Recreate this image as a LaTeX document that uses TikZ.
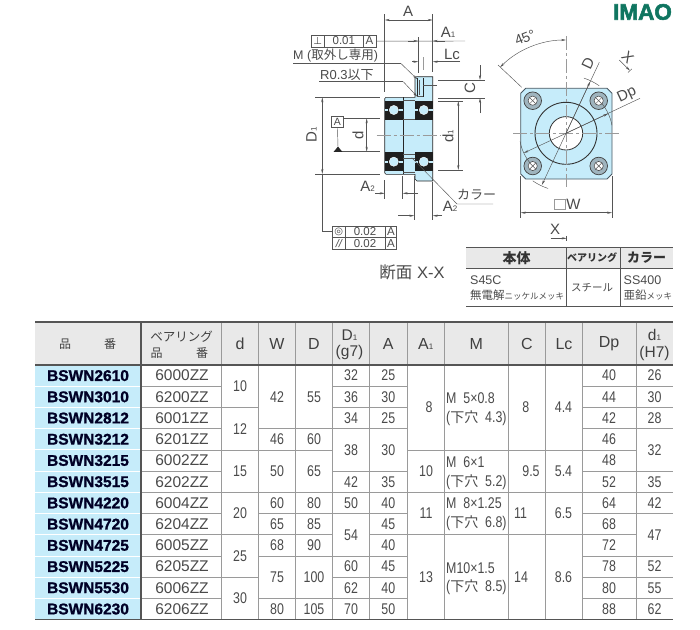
\documentclass[tikz,border=0pt]{standalone}
\usepackage{fontspec}
\setmainfont{Liberation Sans}
\newfontfamily\cjk{Noto Sans CJK JP}
\newfontfamily\narrowfont[FakeStretch=0.8]{Liberation Sans}
\newfontfamily\heavyfont[BoldFeatures={FakeBold=1.2}]{Liberation Sans}
\newfontfamily\logofont[BoldFeatures={FakeBold=2.5}]{Liberation Sans}
\newfontfamily\dejavu{DejaVu Sans}
\usetikzlibrary{arrows.meta,calc}
\definecolor{body_blue}{HTML}{C6ECFA}
\definecolor{text_gray}{HTML}{4A4A4A}
\definecolor{line_gray}{HTML}{555555}
\definecolor{rule_gray}{HTML}{9A9A9A}
\definecolor{head_gray}{HTML}{E9E9E9}
\definecolor{logo_green}{HTML}{0F7560}
\definecolor{ring_gray}{HTML}{9FB4BE}
\newcommand{\fsz}[1]{\fontsize{#1}{#1}\selectfont}
\newcommand{\jp}[1]{{\cjk #1}}
\newcommand{\holejp}{{\cjk\fsz{14}下穴}}
\newcommand{\smalljp}[1]{{\cjk\fsz{8.5}#1}}
\newcommand{\low}[1]{{\fsz{8}#1}}
\newcommand{\rowy}[1]{{365+21.22*(#1-0.5)}}
\newcommand{\liney}[1]{{365+21.22*#1}}
\begin{document}
\begin{tikzpicture}[x=1pt,y=-1pt]
    \tikzstyle{dim_line}=[draw=line_gray, line width=0.45pt]
    \tikzstyle{dim_arrow}=[dim_line, {Stealth[length=5pt,width=2.2pt]}-{Stealth[length=5pt,width=2.2pt]}]
    \tikzstyle{one_arrow}=[dim_line, -{Stealth[length=5pt,width=2.2pt]}]
    \tikzstyle{center_line}=[draw=rule_gray, line width=0.5pt, dash pattern=on 14pt off 3pt on 3pt off 3pt]
    \tikzstyle{dim_label}=[inner sep=0pt, text=text_gray, font=\fsz{15}]
    \tikzstyle{jp_label}=[inner sep=0pt, text=text_gray, font=\fsz{12.5}]
    \tikzstyle{tol_box}=[draw=line_gray, line width=0.5pt]
    \tikzstyle{cut_line}=[draw=black!85, line width=0.6pt]
    \tikzstyle{cell}=[inner sep=0pt, text=text_gray, font=\narrowfont\fsz{15.5}]
    \tikzstyle{part_cell}=[inner sep=0pt, text=black!85!blue, font=\heavyfont\bfseries\fsz{15.5}]
    \tikzstyle{bearing_cell}=[inner sep=0pt, text=text_gray, font=\fsz{15.5}]
    \tikzstyle{head_cell}=[inner sep=0pt, text=black!75, font=\fsz{16}, align=center]
    \tikzstyle{thread_cell}=[inner sep=0pt, text=text_gray, anchor=west, align=left, font=\narrowfont\fontsize{15.5}{18.4}\selectfont]
    \tikzstyle{row_line}=[draw=rule_gray, line width=0.7pt]
    \tikzstyle{col_line}=[draw=rule_gray, line width=1pt]
    \tikzstyle{heavy_line}=[draw=line_gray, line width=1.2pt]
    \useasboundingbox (0,0) rectangle (700,629);

    % logo
    \node at (642.5,12) [inner sep=0pt, text=logo_green, font=\logofont\bfseries\fsz{22.5}] (logo) {IMAO};

    % section: body
    \path[fill=body_blue, cut_line] (386,97.3) -- (415,97.3) -- (415,78) -- (416.5,76.7) -- (432.7,76.7)
      -- (432.7,181) -- (417,181) -- (415,179) -- (415,174.3) -- (386,174.3) -- (384.7,173) -- (384.7,98.6) -- cycle;
    \draw[cut_line] (403.3,97.3) -- (403.3,174.3);
    \foreach \y in {100.7,119.3,154,158,172}
      \draw[draw=line_gray, line width=0.5pt] (403.3,\y) -- (415,\y);
    \draw[cut_line] (417.2,78) -- (417.2,96.5);
    \draw[cut_line] (423,78) -- (423,96.5);
    \draw[draw=line_gray, line width=0.5pt] (419,80) -- (419,95);
    \draw[draw=line_gray, line width=0.5pt] (417.2,96.5) -- (423,96.5);

    % section: bearings
    \foreach \bx in {393.8,423.8}
      \foreach \by in {110,161.7} {
        \fill[black!88] (\bx-9.3,\by-9.5) rectangle (\bx+9.3,\by+9.5);
        \fill[body_blue] (\bx-8.7,\by-1) rectangle (\bx-5.5,\by+1);
        \fill[body_blue] (\bx+5.5,\by-1) rectangle (\bx+8.7,\by+1);
        \fill[body_blue, draw=white, line width=0.4pt] (\bx,\by) circle (4.6pt);
      }

    % section: centre lines
    \draw[center_line] (376.7,135.7) -- (440,135.7);
    \draw[center_line] (423.3,57) -- (423.3,70);
    \draw[dim_line] (423.3,85) -- (437,85);

    % section: A, A1, Lc
    \draw[dim_line] (384.7,14) -- (384.7,92);
    \draw[dim_line] (432.7,14) -- (432.7,72);
    \draw[dim_arrow] (384.7,20) -- (432.7,20);
    \node at (408,11) [dim_label] (label_a) {A};
    \node at (311,35.3) [anchor=north west, minimum width=64.7pt, minimum height=11.4pt, inner sep=0pt, tol_box] (tol_top) {};
    \draw[tol_box] (324.3,35.3) -- (324.3,46.7);
    \draw[tol_box] (363.3,35.3) -- (363.3,46.7);
    \node at (317.6,41) [dim_label, font=\dejavu\fsz{10}] (tol_top_sign) {⊥};
    \node at (343.8,41) [dim_label, font=\fsz{11.5}] (tol_top_val) {0.01};
    \node at (369.5,41) [dim_label, font=\fsz{11.5}] (tol_top_ref) {A};
    \draw[dim_line] (tol_top) -- (465,41);
    \draw[dim_line] (418.3,37) -- (418.3,73);
    \draw[one_arrow] (408,41) -- (418.3,41);
    \draw[one_arrow] (445,41) -- (432.7,41);
    \node at (448,32) [dim_label] (label_a1) {A\low{1}};
    \draw[one_arrow] (412,61.7) -- (418.3,61.7);
    \draw[one_arrow] (460,61.7) -- (432.7,61.7);
    \node at (452,54) [dim_label] (label_lc) {Lc};

    % section: C, d1
    \draw[dim_line] (438,80) -- (485,80);
    \draw[dim_line] (438,98) -- (485,98);
    \draw[one_arrow] (480,65) -- (480,80);
    \draw[one_arrow] (480,113) -- (480,98);
    \node at (470,88.5) [dim_label, rotate=90] (label_c) {C};
    \draw[dim_line] (438,101) -- (463,101);
    \draw[dim_line] (438,170) -- (463,170);
    \draw[dim_arrow] (458.3,101) -- (458.3,170);
    \node at (448,136) [dim_label, rotate=90] (label_d1_in) {d\low{1}};

    % section: D1, d, datum
    \draw[dim_line] (315,97.3) -- (380,97.3);
    \draw[dim_line] (315,174) -- (380,174);
    \draw[dim_arrow] (322.3,97.3) -- (322.3,174);
    \draw[dim_line] (322.3,174) -- (322.3,231.7) -- (332.7,231.7);
    \node at (311.5,135) [dim_label, rotate=90] (label_d1) {D\low{1}};
    \draw[dim_line] (340,118.3) -- (380,118.3);
    \draw[dim_line] (338,151.7) -- (380,151.7);
    \draw[dim_arrow] (366.7,118.3) -- (366.7,151.7);
    \node at (358,135) [dim_label, rotate=90] (label_d) {d};
    \node at (337.3,121.7) [draw=line_gray, line width=0.5pt, fill=white, minimum width=12pt, minimum height=10.5pt, inner sep=0pt, text=text_gray, font=\fsz{10.5}] (datum) {A};
    \fill[black!85] (333.6,151.9) -- (338,146.5) -- (342.4,151.9) -- cycle;
    \draw[dim_line] (datum) -- (338,147);

    % section: leaders
    \draw[dim_line] (293,63.3) -- (400.7,63.3);
    \draw[one_arrow] (400.7,63.3) -- (417.3,79.3);
    \node at (293,56) [jp_label, anchor=west] (label_m) {M (\jp{取外し専用})};
    \draw[dim_line] (319,81.7) -- (403.3,81.7);
    \draw[one_arrow] (403.3,81.7) -- (417.3,96.7);
    \node at (320,75) [jp_label, font=\fsz{13}, anchor=west] (label_r) {R0.3\jp{以下}};
    \draw[dim_line] (411.7,157.7) -- (457,204) -- (493,204);
    \node at (476.7,195) [jp_label, font=\fsz{13}] (label_collar) {\jp{カラー}};

    % section: A2
    \draw[dim_line] (384.7,180) -- (384.7,199);
    \draw[dim_line] (402.7,176) -- (402.7,199);
    \draw[one_arrow] (375,193.3) -- (384.7,193.3);
    \draw[one_arrow] (418,193.3) -- (402.7,193.3);
    \node at (367.5,186) [dim_label] (label_a2_left) {A\low{2}};
    \draw[dim_line] (414.3,176) -- (414.3,220);
    \draw[dim_line] (432.7,182) -- (432.7,220);
    \draw[one_arrow] (398,215.7) -- (414.3,215.7);
    \draw[one_arrow] (442,215.7) -- (432.7,215.7);
    \node at (450,206.5) [dim_label] (label_a2_right) {A\low{2}};

    % section: lower tolerance box
    \draw[tol_box] (332.7,226) rectangle (396.7,249);
    \draw[tol_box] (332.7,237.4) -- (396.7,237.4);
    \draw[tol_box] (345,226) -- (345,249);
    \draw[tol_box] (385,226) -- (385,249);
    \node at (338.8,231.7) [dim_label, font=\dejavu\fsz{10}] (tol_low_sign_a) {◎};
    \node at (338.8,243.2) [dim_label, font=\fsz{11}\itshape] (tol_low_sign_b) {//};
    \foreach \y/\n in {231.7/a,243.2/b} {
      \node at (365,\y) [dim_label, font=\fsz{11.5}] (tol_low_val_\n) {0.02};
      \node at (391,\y) [dim_label, font=\fsz{11.5}] (tol_low_ref_\n) {A};
    }
    \node at (412,272.5) [dim_label, font=\fsz{16.5}] (label_xx) {\jp{断面} X-X};

    % front view
    \coordinate (hub) at (566,133.3);
    \path[fill=body_blue, draw=black!70!cyan, line width=0.8pt] (525.7,88.3) -- (607,88.3) -- (612,93.3) -- (612,174)
      -- (607,179) -- (525.7,179) -- (520.7,174) -- (520.7,93.3) -- cycle;
    \draw[draw=black!80, line width=0.9pt] (hub) circle (31pt);
    \fill[white] (hub) circle (16.7pt);
    \draw[draw=black!80, line width=0.8pt] (hub) circle (16.7pt);
    \foreach \hx/\hy in {532.7/100.7,598.7/100.7,532.7/166,598.7/166} {
      \fill[ring_gray, draw=black!75, line width=0.7pt] (\hx,\hy) circle (8.8pt);
      \fill[white, draw=black!75, line width=0.5pt] (\hx,\hy) circle (4.6pt);
      \draw[dim_line] ($(\hx,\hy)+(-3,-3)$) -- ($(\hx,\hy)+(3,3)$);
      \draw[dim_line] ($(\hx,\hy)+(-3,3)$) -- ($(\hx,\hy)+(3,-3)$);
    }
    \draw[center_line] (566,36) -- (566,186.7);
    \draw[center_line] (513,133.3) -- (619,133.3);

    % front view: 45 deg
    \draw[dim_arrow] ($(hub)+(90:93.3pt)$) arc[start angle=90, end angle=135, radius=93.3pt];
    \draw[dim_line] (498,65) -- (521.7,87.3);
    \node at (525,37.5) [dim_label, font=\fsz{14}, rotate=22] (label_angle) {45°};

    % front view: D, Dp
    \draw[one_arrow] (599.3,62.3) -- (hub) -- ($(hub)+(245:57pt)$);
    \draw[one_arrow] (hub) -- ($(hub)+(65:57pt)$);
    \draw[dim_line] ($(hub)+(55:58pt)$) arc[start angle=55, end angle=72, radius=58pt];
    \draw[dim_line] ($(hub)+(235:58pt)$) arc[start angle=235, end angle=252, radius=58pt];
    \node at (588,63) [dim_label, rotate=65] (label_dd) {D};
    \draw[dim_line] (640,98.3) -- (hub);
    \draw[one_arrow] (hub) -- ($(hub)+(25:46.6pt)$);
    \draw[one_arrow] (hub) -- ($(hub)+(205:46.6pt)$);
    \draw[dim_line] ($(hub)+(10:46.6pt)$) arc[start angle=10, end angle=40, radius=46.6pt];
    \draw[dim_line] ($(hub)+(190:46.6pt)$) arc[start angle=190, end angle=220, radius=46.6pt];
    \node at (627,95) [dim_label, rotate=25] (label_dp) {Dp};

    % front view: W, X marks
    \draw[dim_line] (520.7,176) -- (520.7,218);
    \draw[dim_line] (612,176) -- (612,218);
    \draw[dim_arrow] (520.7,212.7) -- (612,212.7);
    \node at (559.7,204) [draw=rule_gray, line width=0.5pt, minimum size=10.4pt, inner sep=0pt] (square_mark) {};
    \node at (573.5,204) [dim_label] (label_w) {W};
    \node at (555,229) [dim_label] (label_x_low) {X};
    \draw[one_arrow] (550.7,238.3) -- (566.7,238.3);
    \draw[dim_line] (566.7,235.8) -- (566.7,240.8);
    \node at (627.7,57.3) [dim_label, rotate=-45] (label_x_top) {X};
    \draw[one_arrow] (619.3,60) -- (630,70.7);
    \draw[dim_line] (628,72.5) -- (631.8,68.9);

    % material table
    \fill[head_gray] (466,247.3) rectangle (673.3,268.3);
    \draw[draw=line_gray, line width=0.9pt] (466,247.3) -- (673.3,247.3);
    \draw[draw=line_gray, line width=0.9pt] (466,268.3) -- (673.3,268.3);
    \draw[draw=line_gray, line width=0.9pt] (466,306) -- (673.3,306);
    \foreach \x in {566.7,620}
      \draw[draw=line_gray, line width=0.7pt] (\x,247.3) -- (\x,306);
    \node at (516.7,258) [inner sep=0pt, text=black!80, font=\cjk\bfseries\fsz{14}] (mat_body) {本体};
    \node at (592,258) [inner sep=0pt, text=black!80, font=\cjk\bfseries\fsz{10}] (mat_bearing) {ベアリング};
    \node at (646.5,258) [inner sep=0pt, text=black!80, font=\cjk\bfseries\fsz{13}] (mat_collar) {カラー};
    \node at (470,280) [jp_label, anchor=west, font=\fsz{12.5}] (mat_a) {S45C};
    \node at (470,295.3) [jp_label, anchor=west, font=\fsz{11.5}] (mat_b) {\jp{無電解}\smalljp{ニッケルメッキ}};
    \node at (592,287.5) [jp_label, font=\cjk\fsz{10.5}] (mat_c) {スチール};
    \node at (623.5,280) [jp_label, anchor=west, font=\fsz{12.5}] (mat_d) {SS400};
    \node at (623.5,295.3) [jp_label, anchor=west, font=\fsz{11.5}] (mat_e) {\jp{亜鉛}\smalljp{メッキ}};

    % size table: fills
    \fill[head_gray] (35,322) rectangle (673,365);
    \fill[body_blue] (35,365) rectangle (141,619.6);

    % size table: row lines
    \foreach \b in {1,...,11}
      \draw[draw=white, line width=0.8pt] (35,\liney{\b}) -- (141,\liney{\b});
    \foreach \xa/\xb/\list in {141/221.7/{1,2,3,4,5,6,7,8,9,10,11},
        221.7/258.3/{2,4,6,8,10}, 258.3/295.7/{3,4,6,7,8,9,11}, 295.7/332.7/{3,4,6,7,8,9,11},
        332.7/369.3/{1,2,3,5,6,7,9,10,11}, 369.3/407.3/{1,2,3,5,6,7,8,9,10,11},
        407.3/582.3/{4,6,8}, 582.3/636/{1,2,3,4,5,6,7,8,9,10,11}, 636/673/{1,2,3,5,6,7,9,10,11}}
      \foreach \b in \list
        \draw[row_line] (\xa,\liney{\b}) -- (\xb,\liney{\b});

    % size table: column lines
    \foreach \x in {221.7,258.3,295.7,332.7,369.3,407.3,444.3,508.3,545.3,582.3,636}
      \draw[col_line] (\x,322) -- (\x,619.6);
    \draw[draw=line_gray, line width=1.1pt] (141,322) -- (141,619.6);
    \foreach \y in {322,365,619.6}
      \draw[heavy_line] (35,\y) -- (673,\y);

    % size table: header
    \node at (65,344) [head_cell, font=\cjk\fsz{12}] (head_part_a) {品};
    \node at (110,344) [head_cell, font=\cjk\fsz{12}] (head_part_b) {番};
    \node at (181.5,336.5) [head_cell, font=\cjk\fsz{12.5}] (head_bearing) {ベアリング};
    \node at (156.7,353) [head_cell, font=\cjk\fsz{12}] (head_bearing_a) {品};
    \node at (202,353) [head_cell, font=\cjk\fsz{12}] (head_bearing_b) {番};
    \foreach \x/\t/\n in {240/d/d,277/W/w,314/D/dd,388.3/A/a,425.8/A\low{1}/aa,476.3/M/m,527/C/c,564/Lc/lc,609/Dp/dp}
      \node at (\x,344) [head_cell] (head_\n) {\t};
    \node at (349.5,345) [head_cell, font=\fontsize{15.5}{16.5}\selectfont] (head_dd1) {D\low{1}\\(g7)};
    \node at (654.5,345) [head_cell, font=\fontsize{15.5}{16.5}\selectfont] (head_d1) {d\low{1}\\(H7)};

    % size table: part and bearing numbers
    \foreach \p/\b [count=\i] in {2610/6000,3010/6200,2812/6001,3212/6201,3215/6002,3515/6202,
        4220/6004,4720/6204,4725/6005,5225/6205,5530/6006,6230/6206} {
      \node at (88,\rowy{\i}) [part_cell] (part_\i) {BSWN\p};
      \node at (182,\rowy{\i}) [bearing_cell] (bearing_\i) {\b ZZ};
    }

    % size table: values
    \foreach \r/\v [count=\i] in {1.5/10,3.5/12,5.5/15,7.5/20,9.5/25,11.5/30}
      \node at (240,\rowy{\r}) [cell] (d_\i) {\v};
    \foreach \r/\v/\w [count=\i] in {2/42/55,4/46/60,5.5/50/65,7/60/80,8/65/85,9/68/90,10.5/75/100,12/80/105} {
      \node at (277,\rowy{\r}) [cell] (w_\i) {\v};
      \node at (314,\rowy{\r}) [cell] (dd_\i) {\w};
    }
    \foreach \r/\v [count=\i] in {1/32,2/36,3/34,4.5/38,6/42,7/50,8.5/54,10/60,11/62,12/70}
      \node at (351,\rowy{\r}) [cell] (dd1_\i) {\v};
    \foreach \r/\v [count=\i] in {1/25,2/30,3/25,4.5/30,6/35,7/40,8/45,9/40,10/45,11/40,12/50}
      \node at (388.3,\rowy{\r}) [cell] (a_\i) {\v};
    \foreach \x/\r/\v [count=\i] in {429/2.5/8,426/5.5/10,426/7.5/11,426/10.5/13}
      \node at (\x,\rowy{\r}) [cell] (aa_\i) {\v};
    \foreach \x/\r/\v [count=\i] in {525.7/2.5/8,531/5.5/9.5,520.5/7.5/11,521/10.5/14}
      \node at (\x,\rowy{\r}) [cell] (c_\i) {\v};
    \foreach \r/\v [count=\i] in {2.5/4.4,5.5/5.4,7.5/6.5,10.5/8.6}
      \node at (563.5,\rowy{\r}) [cell] (lc_\i) {\v};
    \foreach \r/\v [count=\i] in {1/40,2/44,3/42,4/46,5/48,6/52,7/64,8/68,9/72,10/78,11/80,12/88}
      \node at (609,\rowy{\r}) [cell] (dp_\i) {\v};
    \foreach \r/\v [count=\i] in {1/26,2/30,3/28,4.5/32,6/35,7/42,8.5/47,10/52,11/55,12/62}
      \node at (654.5,\rowy{\r}) [cell] (d1_\i) {\v};

    % size table: threads
    \node at (446,409) [thread_cell] (m_1) {M\ \ 5×0.8\\(\holejp\ \ 4.3)};
    \node at (446,473) [thread_cell] (m_2) {M\ \ 6×1\\(\holejp\ \ 5.2)};
    \node at (446,514.2) [thread_cell] (m_3) {M\ \ 8×1.25\\(\holejp\ \ 6.8)};
    \node at (446,578.5) [thread_cell] (m_4) {M10×1.5\\(\holejp\ \ 8.5)};
\end{tikzpicture}
\end{document}
